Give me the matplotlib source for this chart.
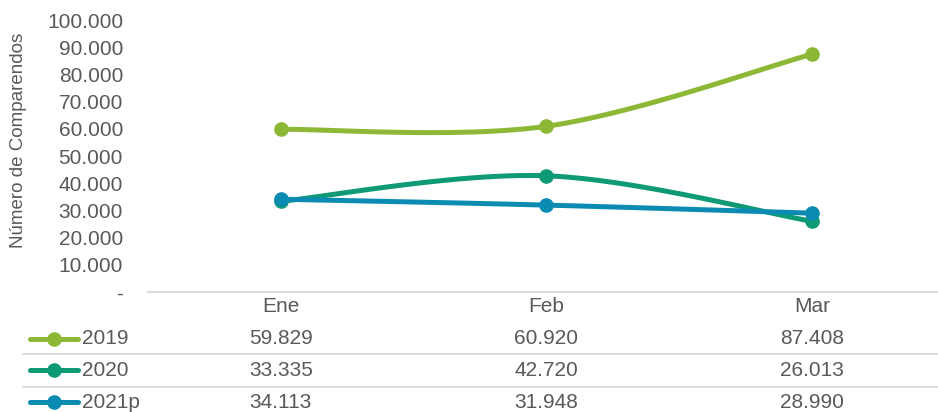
import matplotlib
matplotlib.use("Agg")
import matplotlib.pyplot as plt
import matplotlib.transforms as mtransforms
import numpy as np

plt.rcParams['font.family'] = ['Liberation Sans', 'DejaVu Sans']

meses = ['Ene', 'Feb', 'Mar']
series = ['2019', '2020', '2021p']
v2019 = [59829, 60920, 87408]
v2020 = [33335, 42720, 26013]
v2021 = [34113, 31948, 28990]
valores = [v2019, v2020, v2021]
colores = ['#8cb836', '#0e9a74', '#0b8ab2']
yticks = [0, 10000, 20000, 30000, 40000, 50000, 60000, 70000, 80000, 90000, 100000]

gris = '#595959'
W, H = 938, 412


def fmt(v):
    return '-' if v == 0 else f'{v:,.0f}'.replace(',', '.')


def excel_smooth(x, y, n=60):
    # bezier como el suavizado de excel
    x = np.asarray(x, float)
    y = np.asarray(y, float)
    px, py = [], []
    m = len(x)
    for i in range(m - 1):
        i0 = max(i - 1, 0)
        i3 = min(i + 2, m - 1)
        p0 = np.array([x[i], y[i]])
        p3 = np.array([x[i + 1], y[i + 1]])
        p1 = p0 + (np.array([x[i + 1], y[i + 1]]) - np.array([x[i0], y[i0]])) / 6
        p2 = p3 - (np.array([x[i3], y[i3]]) - np.array([x[i], y[i]])) / 6
        t = np.linspace(0, 1, n)[:, None]
        c = (1 - t) ** 3 * p0 + 3 * (1 - t) ** 2 * t * p1 + 3 * (1 - t) * t ** 2 * p2 + t ** 3 * p3
        px.extend(c[:, 0])
        py.extend(c[:, 1])
    return np.array(px), np.array(py)


fig = plt.figure(figsize=(W / 100, H / 100), dpi=100)

# pixel coords of plot area
left, right, top, bottom = 148, 944.5, 20, 292
ax = fig.add_axes([left / W, 1 - bottom / H, (right - left) / W, (bottom - top) / H])

xs = np.arange(len(meses))
for vals, col in zip(valores, colores):
    sx, sy = excel_smooth(xs, vals)
    ax.plot(sx, sy, color=col, lw=3.6, solid_capstyle='round', clip_on=False)
    ax.plot(xs, vals, 'o', color=col, ms=9.5, clip_on=False)

ax.set_xlim(-0.5, 2.5)
ax.set_ylim(0, 100000)
ax.set_yticks(yticks)
ax.set_yticklabels([fmt(v) for v in yticks], fontsize=15, color=gris)
ax.set_xticks([])
ax.tick_params(axis='y', length=0, pad=18)
for s in ['top', 'right', 'left']:
    ax.spines[s].set_visible(False)
ax.spines['bottom'].set_color('#d9d9d9')
ax.spines['bottom'].set_linewidth(1.3)

fig.text(19 / W, 1 - 140 / H, 'Número de Comparendos', rotation=90,
         ha='center', va='center', fontsize=13.5, color=gris)

# overlay in pixel coords for the data table
ov = fig.add_axes([0, 0, 1, 1])
ov.set_xlim(0, W)
ov.set_ylim(H, 0)
ov.axis('off')
ov.patch.set_alpha(0)

tr = mtransforms.blended_transform_factory(ax.transData, ov.transData)

for i, m in enumerate(meses):
    ov.text(i, 307, m, transform=tr, ha='center', va='center', fontsize=15, color=gris)

row_y = [339, 370, 402]
for name, vals, col, yy in zip(series, valores, colores, row_y):
    ov.plot([30, 78], [yy, yy], color=col, lw=3.6, solid_capstyle='round')
    ov.plot([54], [yy], 'o', color=col, ms=9.5)
    ov.text(82, yy, name, ha='left', va='center', fontsize=15, color=gris)
    for i, v in enumerate(vals):
        ov.text(i, yy, fmt(v), transform=tr, ha='center', va='center', fontsize=15, color=gris)

for yy in [354, 387]:
    ov.plot([23, W], [yy, yy], color='#d9d9d9', lw=1.3)

fig.savefig('out.png', dpi=100)
